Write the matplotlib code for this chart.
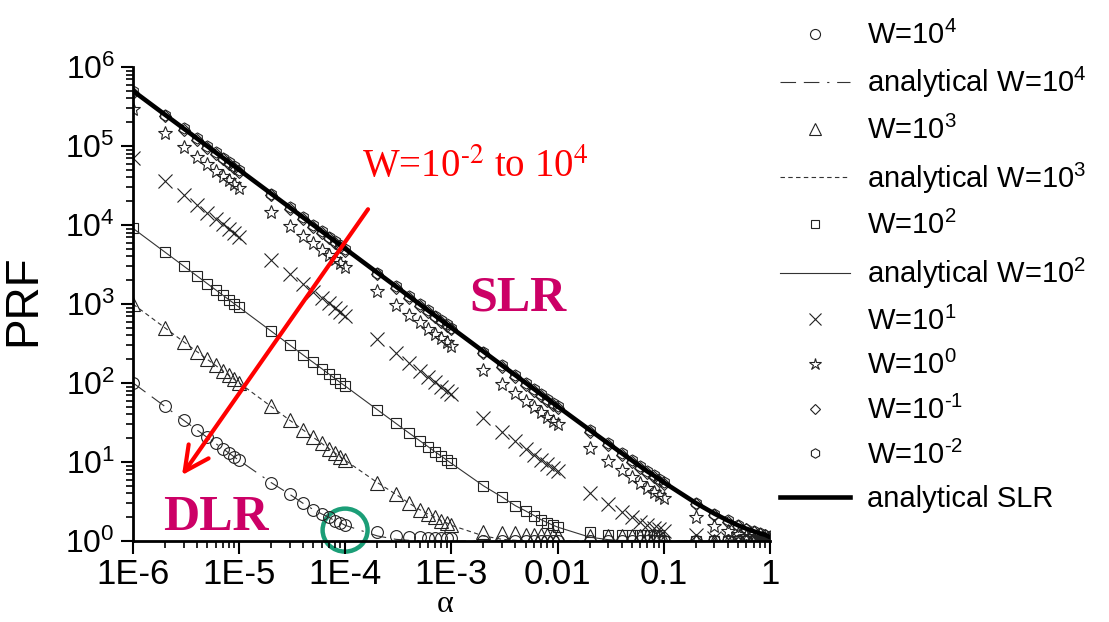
import matplotlib

matplotlib.use("Agg")
import matplotlib.pyplot as plt  # noqa: E402
from matplotlib.patches import Ellipse  # noqa: E402
from matplotlib.ticker import NullFormatter  # noqa: E402

plt.rcParams.update({
    "font.family": ["Liberation Sans", "DejaVu Sans"],
    "mathtext.fontset": "custom",
    "mathtext.rm": "Liberation Sans",
    "mathtext.it": "Liberation Sans:italic",
    "mathtext.bf": "Liberation Sans:bold",
    "axes.spines.top": False,
    "axes.spines.right": False,
})

# alpha grid (1..9 x 10^k, k = -6..-1, then 1)
alpha = [
    1e-6, 2e-6, 3e-6, 4e-6, 5e-6, 6e-6, 7e-6, 8e-6, 9e-6,
    1e-5, 2e-5, 3e-5, 4e-5, 5e-5, 6e-5, 7e-5, 8e-5, 9e-5,
    1e-4, 2e-4, 3e-4, 4e-4, 5e-4, 6e-4, 7e-4, 8e-4, 9e-4,
    1e-3, 2e-3, 3e-3, 4e-3, 5e-3, 6e-3, 7e-3, 8e-3, 9e-3,
    0.01, 0.02, 0.03, 0.04, 0.05, 0.06, 0.07, 0.08, 0.09,
    0.1, 0.2, 0.3, 0.4, 0.5, 0.6, 0.7, 0.8, 0.9,
    1.0,
]

# simulated PRF
prf_w1e4 = [
    100.5, 50.5, 33.8, 25.5, 20.5, 17.2, 14.8, 13.0, 11.6,
    10.5, 5.5, 3.9, 3.0, 2.5, 2.2, 2.0, 1.8, 1.7,
    1.6, 1.3, 1.15, 1.12, 1.12, 1.1, 1.1, 1.1, 1.1,
    1.1, 1, 1, 1, 1, 1, 1, 1, 1,
    1, 1, 1, 1, 1, 1, 1, 1, 1,
    1, 1, 1, 1, 1, 1, 1, 1, 1,
    1,
]
prf_w1e3 = [
    1000, 500, 333, 250, 200, 167, 143, 125, 111,
    100.5, 50.5, 33.8, 25.5, 20.5, 17.2, 14.8, 13.0, 11.6,
    10.5, 5.5, 3.9, 3.0, 2.5, 2.2, 2.0, 1.8, 1.7,
    1.6, 1.3, 1.25, 1.25, 1.2, 1.2, 1.2, 1.2, 1.2,
    1.15, 1.15, 1.15, 1.15, 1.15, 1.15, 1.15, 1.15, 1.15,
    1, 1, 1, 1, 1, 1, 1, 1, 1,
    1,
]
prf_w1e2 = [
    9090, 4545, 3030, 2273, 1818, 1515, 1299, 1136, 1010,
    909, 455, 303, 227, 182, 152, 130, 114, 101,
    91.4, 46, 30.8, 23.2, 18.7, 15.7, 13.5, 11.9, 10.6,
    9.6, 5.0, 3.6, 2.8, 2.4, 2.1, 1.86, 1.71, 1.59,
    1.5, 1.3, 1.2, 1.2, 1.2, 1.2, 1.2, 1.2, 1.2,
    1, 1, 1, 1, 1, 1, 1, 1, 1,
    1,
]
prf_w1e1 = [
    71400, 35700, 23800, 17900, 14300, 11900, 10200, 8930, 7940,
    7140, 3570, 2380, 1790, 1430, 1190, 1020, 893, 794,
    714, 357, 238, 179, 143, 119, 102, 89, 79.9,
    71.9, 36.2, 24.3, 18.4, 14.8, 12.4, 10.7, 9.43, 8.44,
    7.6, 4.1, 2.9, 2.35, 1.99, 1.76, 1.6, 1.48, 1.40,
    1.33, 1.2, 1.1, 1.05, 1, 1, 1, 1, 1,
    1,
]
prf_w1e0 = [
    294000, 147000, 98000, 73500, 58800, 49000, 42000, 36800, 32700,
    29400, 14700, 9800, 7350, 5880, 4900, 4200, 3680, 3270,
    2940, 1470, 980, 735, 588, 490, 420, 368, 327,
    294.6, 147.6, 98.5, 74, 59.3, 49.5, 42.5, 37.3, 33.2,
    29.9, 15.2, 10.3, 7.86, 6.4, 5.42, 4.72, 4.2, 3.8,
    3.47, 2.03, 1.57, 1.35, 1.22, 1.15, 1.10, 1.07, 1.05,
    1.03,
]
prf_w1e_1 = [
    476000, 238000, 159000, 119000, 95200, 79400, 68000, 59500, 52900,
    47600, 23800, 15900, 11900, 9520, 7940, 6800, 5950, 5290,
    4760, 2380, 1590, 1190, 952, 794, 680, 595, 529,
    476.7, 238.6, 159.2, 119.5, 95.7, 79.9, 68.5, 60, 53.4,
    48.1, 24.3, 16.4, 12.4, 10.0, 8.4, 7.3, 6.45, 5.79,
    5.27, 2.91, 2.14, 1.76, 1.54, 1.40, 1.30, 1.23, 1.18,
    1.14,
]
prf_w1e_2 = [
    500000, 250000, 167000, 125000, 100000, 83300, 71400, 62500, 55600,
    50000, 25000, 16700, 12500, 10000, 8330, 7140, 6250, 5560,
    5000, 2500, 1670, 1250, 1000, 833, 714, 625, 556,
    500.5, 250.5, 167, 125.5, 100.5, 83.8, 71.9, 63, 56,
    50.5, 25.5, 17.2, 13.0, 10.5, 8.8, 7.6, 6.8, 6.1,
    5.52, 3.03, 2.22, 1.82, 1.58, 1.43, 1.33, 1.25, 1.20,
    1.16,
]

# analytical curves
ana_w1e4 = [
    100.5, 50.5, 33.8, 25.5, 20.5, 17.2, 14.8, 13.0, 11.6,
    10.5, 5.5, 3.9, 3.0, 2.5, 2.2, 2.0, 1.8, 1.7,
    1.58, 1.16, 1.05, 1.02, 1.01, 1, 1, 1, 1,
    1, 1, 1, 1, 1, 1, 1, 1, 1,
    1, 1, 1, 1, 1, 1, 1, 1, 1,
    1, 1, 1, 1, 1, 1, 1, 1, 1,
    1,
]
ana_w1e3 = [
    1000, 500, 333, 250, 200, 167, 143, 125, 111,
    100.5, 50.5, 33.8, 25.5, 20.5, 17.2, 14.8, 13.0, 11.6,
    10.5, 5.5, 3.9, 3.0, 2.5, 2.2, 2.0, 1.8, 1.7,
    1.58, 1.16, 1.05, 1.02, 1.01, 1, 1, 1, 1,
    1, 1, 1, 1, 1, 1, 1, 1, 1,
    1, 1, 1, 1, 1, 1, 1, 1, 1,
    1,
]
ana_w1e2 = [
    9090, 4545, 3030, 2273, 1818, 1515, 1299, 1136, 1010,
    909, 455, 303, 227, 182, 152, 130, 114, 101,
    91.4, 46, 30.8, 23.2, 18.7, 15.7, 13.5, 11.9, 10.6,
    9.6, 5.0, 3.6, 2.8, 2.4, 2.1, 1.86, 1.71, 1.59,
    1.5, 1.12, 1.04, 1.01, 1, 1, 1, 1, 1,
    1, 1, 1, 1, 1, 1, 1, 1, 1,
    1,
]
ana_slr = [
    500000, 250000, 167000, 125000, 100000, 83300, 71400, 62500, 55600,
    50000, 25000, 16700, 12500, 10000, 8330, 7140, 6250, 5560,
    5000, 2500, 1670, 1250, 1000, 833, 714, 625, 556,
    500.5, 250.5, 167, 125.5, 100.5, 83.8, 71.9, 63, 56,
    50.5, 25.5, 17.2, 13.0, 10.5, 8.8, 7.6, 6.8, 6.1,
    5.52, 3.03, 2.22, 1.82, 1.58, 1.43, 1.33, 1.25, 1.20,
    1.12,
]

xtick_vals = [1e-6, 1e-5, 1e-4, 1e-3, 0.01, 0.1, 1]
xtick_labels = ["1E-6", "1E-5", "1E-4", "1E-3", "0.01", "0.1", "1"]

fig = plt.figure(figsize=(11.09, 6.22), dpi=100)
ax = fig.add_axes([0.1199, 0.1302, 0.5744, 0.762])

mk = dict(linestyle="none", markerfacecolor="none", markeredgecolor="#222222",
          markeredgewidth=0.8)
ax.plot(alpha, prf_w1e4, marker="o", markersize=8.5, label=r"W=$10^{4}$", **mk)
ax.plot(alpha, ana_w1e4, color="#333333", lw=0.8, dashes=(14, 7, 14, 7, 2, 7),
        label=r"analytical W=$10^{4}$")
ax.plot(alpha, prf_w1e3, marker="^", markersize=9.5, label=r"W=$10^{3}$", **mk)
ax.plot(alpha, ana_w1e3, color="#333333", lw=0.8, dashes=(4, 3),
        label=r"analytical W=$10^{3}$")
ax.plot(alpha, prf_w1e2, marker="s", markersize=7.5, label=r"W=$10^{2}$", **mk)
ax.plot(alpha, ana_w1e2, color="#333333", lw=0.8,
        label=r"analytical W=$10^{2}$")
ax.plot(alpha, prf_w1e1, marker="x", markersize=9.5, label=r"W=$10^{1}$", **mk)
ax.plot(alpha, prf_w1e0, marker="*", markersize=10.5, label=r"W=$10^{0}$", **mk)
ax.plot(alpha, prf_w1e_1, marker="D", markersize=6.5, label=r"W=$10^{\text{-}1}$", **mk)
ax.plot(alpha, prf_w1e_2, marker="h", markersize=8, label=r"W=$10^{\text{-}2}$", **mk)
ax.plot(alpha, ana_slr, color="black", lw=3.3, label="analytical SLR")

ax.set_xscale("log")
ax.set_yscale("log")
ax.set_xlim(1e-6, 1)
ax.set_ylim(1, 1e6)
ax.set_xticks(xtick_vals, labels=xtick_labels)
ax.xaxis.set_minor_formatter(NullFormatter())
ax.yaxis.set_minor_formatter(NullFormatter())
ax.tick_params(which="major", direction="out", length=9, width=1.5, pad=4)
ax.tick_params(which="minor", direction="out", length=5, width=1.2)
ax.tick_params(axis="x", which="major", labelsize=25, pad=3)
ax.tick_params(axis="y", which="major", labelsize=23)
for side in ("left", "bottom"):
    ax.spines[side].set_linewidth(2)

ax.set_xlabel("α", fontsize=23, family="Liberation Serif")
ax.xaxis.set_label_coords(0.49, -0.104)
ax.set_ylabel("PRF", fontsize=33)
ax.yaxis.set_label_coords(-0.138, 0.508)

ax.legend(loc="upper left", bbox_to_anchor=(0.703, 0.967),
          bbox_transform=fig.transFigure, frameon=False, fontsize=21,
          handlelength=2.4, handletextpad=0.6, labelspacing=0.53,
          borderaxespad=0, borderpad=0, markerscale=0.85)

# annotations
ax.annotate("", xy=(0.077, 0.139), xytext=(0.369, 0.700), xycoords="axes fraction",
            arrowprops=dict(arrowstyle="->,head_length=0.7,head_width=0.35",
                            color="red", lw=3, mutation_scale=25,
                            shrinkA=0, shrinkB=0))
ax.text(0.3595, 0.768, r"W=10$^{\text{-}2}$ to 10$^{4}$", transform=ax.transAxes,
        color="red", fontsize=28, family="Liberation Serif", math_fontfamily="stix",
        va="baseline", ha="left")
ax.text(0.604, 0.487, "SLR", transform=ax.transAxes, color="#cc0066",
        fontsize=36, family="Liberation Serif", weight="bold",
        ha="center", va="baseline")
ax.text(0.130, 0.023, "DLR", transform=ax.transAxes, color="#cc0066",
        fontsize=36, family="Liberation Serif", weight="bold",
        ha="center", va="baseline")
ax.add_patch(Ellipse((0.333, 0.023), 0.0706, 0.0907, transform=ax.transAxes,
                     fill=False, edgecolor="#1b9e77", lw=3.2, clip_on=False))

fig.savefig("out.png", dpi=100)
